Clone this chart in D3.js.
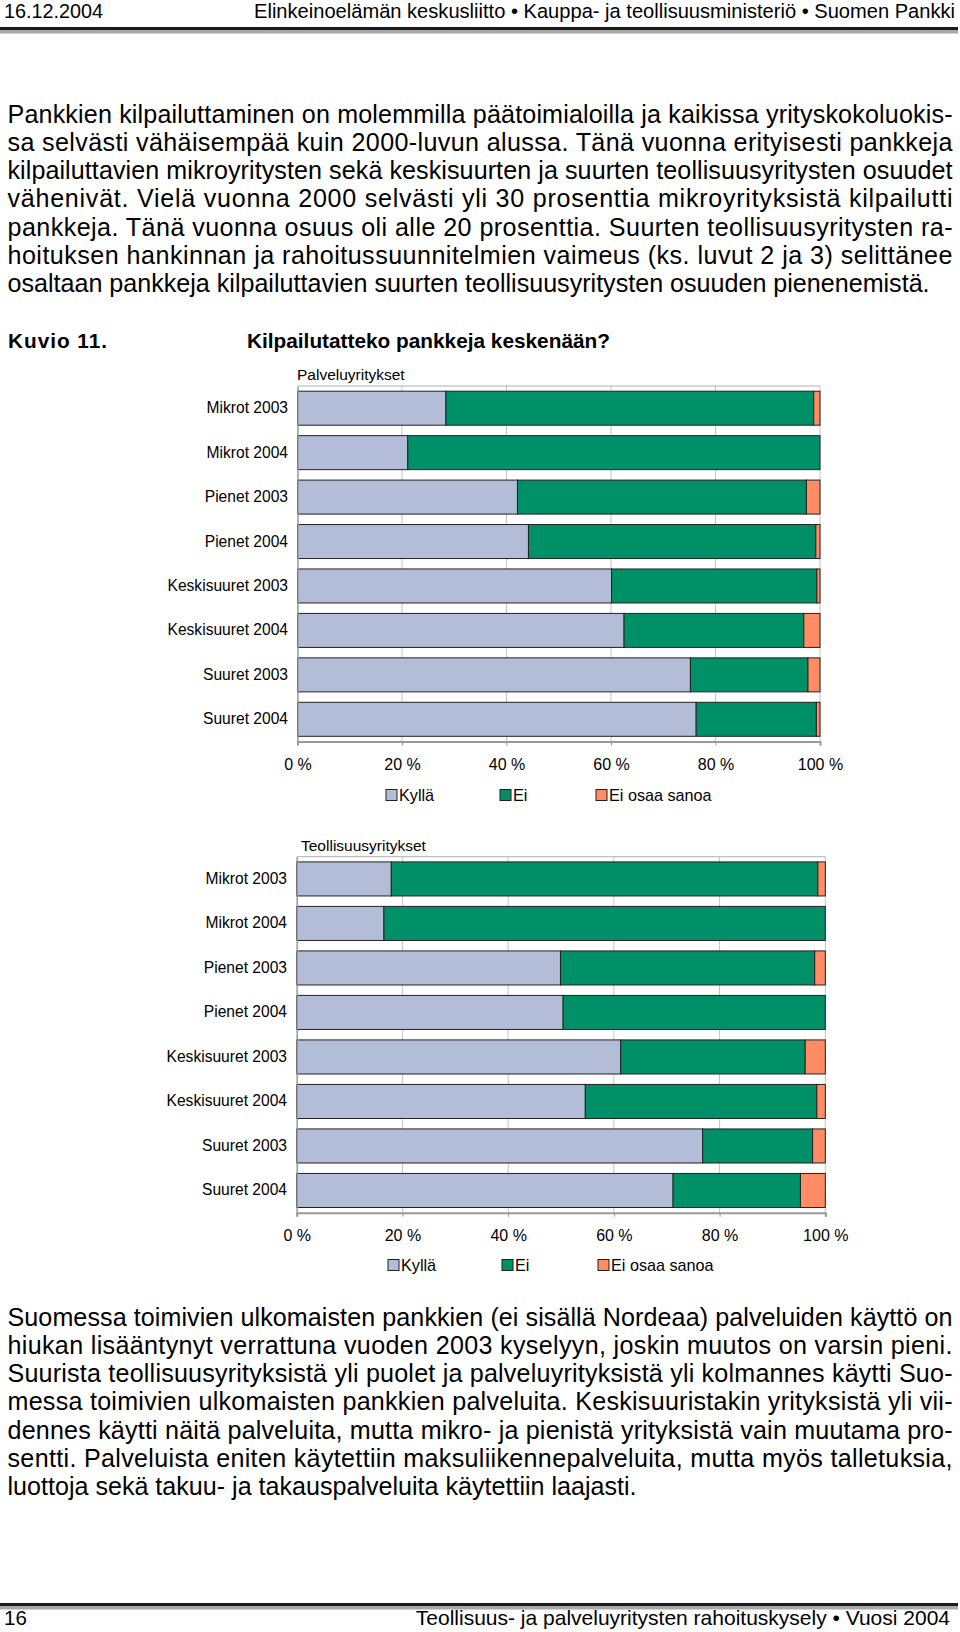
<!DOCTYPE html>
<html><head><meta charset="utf-8">
<script src="https://cdn.jsdelivr.net/npm/d3@7"></script>
<style>
body{margin:0;background:#fff}
svg{display:block}
text{font-family:"Liberation Sans",Arial,sans-serif;fill:#000}
</style>
</head><body>
<svg id="page" width="960" height="1632"></svg>
<script>
// ---------- data ----------
const categories = ["Mikrot 2003","Mikrot 2004","Pienet 2003","Pienet 2004","Keskisuuret 2003","Keskisuuret 2004","Suuret 2003","Suuret 2004"];
const seriesNames = ["Kyllä","Ei","Ei osaa sanoa"];
const seriesColors = ["#b3bdd7","#009068","#ff8c64"];
const palvKylla = [28.4,21.1,42.1,44.2,60.1,62.5,75.2,76.3];
const palvEi    = [70.4,78.9,55.3,55.0,39.3,34.4,22.5,23.0];
const palvEos   = [1.2,0.0,2.6,0.8,0.6,3.1,2.3,0.7];
const teolKylla = [17.9,16.5,49.9,50.4,61.3,54.6,76.8,71.2];
const teolEi    = [80.7,83.5,48.1,49.6,34.9,43.8,20.8,24.1];
const teolEos   = [1.4,0.0,2.0,0.0,3.8,1.6,2.4,4.7];
const tickValues = [0,20,40,60,80,100];
const tickLabels = ["0 %","20 %","40 %","60 %","80 %","100 %"];

const para1 = [
 "Pankkien kilpailuttaminen on molemmilla päätoimialoilla ja kaikissa yrityskokoluokis-",
 "sa selvästi vähäisempää kuin 2000-luvun alussa. Tänä vuonna erityisesti pankkeja",
 "kilpailuttavien mikroyritysten sekä keskisuurten ja suurten teollisuusyritysten osuudet",
 "vähenivät. Vielä vuonna 2000 selvästi yli 30 prosenttia mikroyrityksistä kilpailutti",
 "pankkeja. Tänä vuonna osuus oli alle 20 prosenttia. Suurten teollisuusyritysten ra-",
 "hoituksen hankinnan ja rahoitussuunnitelmien vaimeus (ks. luvut 2 ja 3) selittänee",
 "osaltaan pankkeja kilpailuttavien suurten teollisuusyritysten osuuden pienenemistä."
];
const para2 = [
 "Suomessa toimivien ulkomaisten pankkien (ei sisällä Nordeaa) palveluiden käyttö on",
 "hiukan lisääntynyt verrattuna vuoden 2003 kyselyyn, joskin muutos on varsin pieni.",
 "Suurista teollisuusyrityksistä yli puolet ja palveluyrityksistä yli kolmannes käytti Suo-",
 "messa toimivien ulkomaisten pankkien palveluita. Keskisuuristakin yrityksistä yli vii-",
 "dennes käytti näitä palveluita, mutta mikro- ja pienistä yrityksistä vain muutama pro-",
 "sentti. Palveluista eniten käytettiin maksuliikennepalveluita, mutta myös talletuksia,",
 "luottoja sekä takuu- ja takauspalveluita käytettiin laajasti."
];

const page = d3.select("#page");

// ---------- header / footer ----------
function rule(y){
  page.append("rect").attr("x",0).attr("y",y).attr("width",958).attr("height",3).attr("fill","#1a1a1a");
  page.append("rect").attr("x",0).attr("y",y+3).attr("width",958).attr("height",3.5).attr("fill","#a8a8a8");
}
page.append("text").attr("x",4).attr("y",18).attr("font-size",19.8).text("16.12.2004");
page.append("text").attr("x",955).attr("y",18).attr("font-size",20.1).attr("text-anchor","end")
  .text("Elinkeinoelämän keskusliitto • Kauppa- ja teollisuusministeriö • Suomen Pankki");
rule(27);
rule(1603);
page.append("text").attr("x",4).attr("y",1625).attr("font-size",20.5).text("16");
page.append("text").attr("x",950).attr("y",1625).attr("font-size",21).attr("text-anchor","end")
  .text("Teollisuus- ja palveluyritysten rahoituskysely • Vuosi 2004");

// ---------- paragraphs ----------
function paragraph(lines, y0){
  lines.forEach((l,i)=>{
    const t = page.append("text").attr("x",7.5).attr("y",y0+i*28.33).attr("font-size",25.1).text(l);
    if(i<lines.length-1){ t.attr("textLength",945).attr("lengthAdjust","spacing"); }
  });
}
paragraph(para1, 122.5);
paragraph(para2, 1325.5);

page.append("text").attr("x",8).attr("y",347.5).attr("font-size",20.8).attr("font-weight","bold")
  .attr("textLength",99).attr("lengthAdjust","spacing").text("Kuvio  11.");
page.append("text").attr("x",247).attr("y",347.5).attr("font-size",20.8).attr("font-weight","bold")
  .text("Kilpailutatteko pankkeja keskenään?");

// ---------- charts ----------
function drawChart(cfg){
  const g = page.append("g");
  const x = d3.scaleLinear().domain([0,100]).range([cfg.x0,cfg.x1]);
  const y = d3.scaleBand().domain(categories).range([cfg.top,cfg.bottom]).paddingInner(0.235).paddingOuter(0.117);

  g.append("text").attr("x",cfg.titleX).attr("y",cfg.top-6).attr("font-size",15.5).text(cfg.title);

  g.selectAll("line.grid").data(tickValues.slice(1)).join("line")
    .attr("x1",d=>x(d)).attr("x2",d=>x(d)).attr("y1",cfg.top).attr("y2",cfg.bottom)
    .attr("stroke","#c4c4c4").attr("stroke-width",1);
  g.append("line").attr("x1",x(0)).attr("x2",x(100)).attr("y1",cfg.top).attr("y2",cfg.top)
    .attr("stroke","#b0b0b0").attr("stroke-width",1);

  const rows = categories.map((c,i)=>({cat:c,"Kyllä":cfg.k[i],"Ei":cfg.e[i],"Ei osaa sanoa":cfg.o[i]}));
  const stacked = d3.stack().keys(seriesNames)(rows);
  g.selectAll("g.series").data(stacked).join("g")
    .attr("fill",(d,i)=>seriesColors[i])
    .selectAll("rect").data(d=>d.filter(p=>p[1]-p[0]>0)).join("rect")
      .attr("x",d=>x(d[0])).attr("width",d=>x(d[1])-x(d[0]))
      .attr("y",d=>y(d.data.cat)).attr("height",y.bandwidth())
      .attr("stroke","#222").attr("stroke-width",1);

  const xa = g.append("g").attr("transform",`translate(0,${cfg.bottom})`)
    .call(d3.axisBottom(x).tickValues(tickValues).tickFormat((d,i)=>tickLabels[i]).tickSize(4).tickPadding(13));
  xa.select(".domain").attr("stroke","#999").attr("stroke-width",2);
  xa.selectAll(".tick line").attr("stroke","#999");
  xa.selectAll("text").attr("font-size",16).attr("font-family","Liberation Sans, Arial, sans-serif").attr("fill","#000");

  const ya = g.append("g").attr("transform",`translate(${cfg.x0},0)`)
    .call(d3.axisLeft(y).tickSize(0).tickPadding(cfg.x0-cfg.labelRight));
  ya.select(".domain").attr("stroke","#999").attr("stroke-width",1.5);
  ya.selectAll("text").attr("font-size",15.6).attr("font-family","Liberation Sans, Arial, sans-serif").attr("fill","#000");

  const lg = g.append("g");
  seriesNames.forEach((s,i)=>{
    lg.append("rect").attr("x",cfg.legendX[i]).attr("y",cfg.legendY-5.5).attr("width",11).attr("height",11)
      .attr("fill",seriesColors[i]).attr("stroke","#222").attr("stroke-width",1);
    lg.append("text").attr("x",cfg.legendX[i]+13).attr("y",cfg.legendY+6).attr("font-size",16.2).text(s);
  });
}

drawChart({title:"Palveluyritykset", titleX:297, x0:297.5, x1:820, top:386, bottom:741.5, labelRight:288,
  k:palvKylla, e:palvEi, o:palvEos, legendX:[386,500,596], legendY:795});
drawChart({title:"Teollisuusyritykset", titleX:301, x0:296.7, x1:825.3, top:856.7, bottom:1212.7, labelRight:287,
  k:teolKylla, e:teolEi, o:teolEos, legendX:[388,502,598], legendY:1265});
</script>
</body></html>
